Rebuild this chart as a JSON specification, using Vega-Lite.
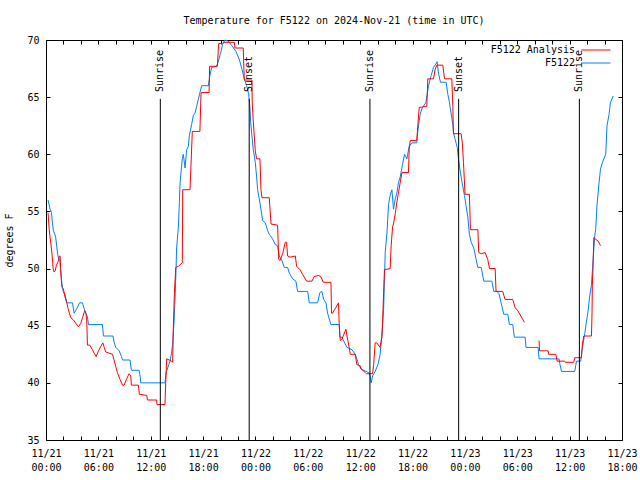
{
  "$schema": "https://vega.github.io/schema/vega-lite/v6.json",
  "width": 576,
  "height": 400,
  "autosize": {"type": "none"},
  "padding": {"left": 46, "top": 40, "right": 18, "bottom": 40},
  "background": "white",
  "title": {"text": "Temperature for F5122 on 2024-Nov-21 (time in UTC)", "font": "DejaVu Sans Mono", "fontSize": 10, "fontWeight": "normal", "color": "black", "offset": 9},
  "config": {
    "view": {"stroke": "black", "strokeWidth": 1},
    "axis": {"labelFont": "DejaVu Sans Mono", "labelFontSize": 10, "labelColor": "black", "tickColor": "black", "tickWidth": 1, "titleFont": "DejaVu Sans Mono", "titleFontSize": 10, "titleFontWeight": "normal", "titleColor": "black", "grid": false, "domain": false}
  },
  "datasets": {
    "obs": [
      {"time":"2024-11-21T00:14:00Z","temp":56.0,"series":"F5122","part":"a"},
      {"time":"2024-11-21T00:28:00Z","temp":55.2,"series":"F5122","part":"a"},
      {"time":"2024-11-21T00:38:00Z","temp":54.9,"series":"F5122","part":"a"},
      {"time":"2024-11-21T00:44:00Z","temp":54.0,"series":"F5122","part":"a"},
      {"time":"2024-11-21T00:51:00Z","temp":53.3,"series":"F5122","part":"a"},
      {"time":"2024-11-21T01:01:00Z","temp":53.0,"series":"F5122","part":"a"},
      {"time":"2024-11-21T01:07:00Z","temp":52.7,"series":"F5122","part":"a"},
      {"time":"2024-11-21T01:14:00Z","temp":51.9,"series":"F5122","part":"a"},
      {"time":"2024-11-21T01:21:00Z","temp":51.2,"series":"F5122","part":"a"},
      {"time":"2024-11-21T01:28:00Z","temp":50.8,"series":"F5122","part":"a"},
      {"time":"2024-11-21T01:35:00Z","temp":50.8,"series":"F5122","part":"a"},
      {"time":"2024-11-21T01:41:00Z","temp":49.9,"series":"F5122","part":"a"},
      {"time":"2024-11-21T01:49:00Z","temp":48.7,"series":"F5122","part":"a"},
      {"time":"2024-11-21T01:58:00Z","temp":48.0,"series":"F5122","part":"a"},
      {"time":"2024-11-21T02:11:00Z","temp":47.7,"series":"F5122","part":"a"},
      {"time":"2024-11-21T02:23:00Z","temp":47.0,"series":"F5122","part":"a"},
      {"time":"2024-11-21T03:02:00Z","temp":47.0,"series":"F5122","part":"a"},
      {"time":"2024-11-21T03:13:00Z","temp":46.1,"series":"F5122","part":"a"},
      {"time":"2024-11-21T03:32:00Z","temp":46.5,"series":"F5122","part":"a"},
      {"time":"2024-11-21T03:50:00Z","temp":47.0,"series":"F5122","part":"a"},
      {"time":"2024-11-21T04:11:00Z","temp":47.0,"series":"F5122","part":"a"},
      {"time":"2024-11-21T04:22:00Z","temp":46.5,"series":"F5122","part":"a"},
      {"time":"2024-11-21T04:34:00Z","temp":46.1,"series":"F5122","part":"a"},
      {"time":"2024-11-21T04:45:00Z","temp":45.8,"series":"F5122","part":"a"},
      {"time":"2024-11-21T04:52:00Z","temp":45.1,"series":"F5122","part":"a"},
      {"time":"2024-11-21T06:28:00Z","temp":45.1,"series":"F5122","part":"a"},
      {"time":"2024-11-21T06:35:00Z","temp":44.1,"series":"F5122","part":"a"},
      {"time":"2024-11-21T07:41:00Z","temp":44.1,"series":"F5122","part":"a"},
      {"time":"2024-11-21T07:49:00Z","temp":43.5,"series":"F5122","part":"a"},
      {"time":"2024-11-21T08:00:00Z","temp":43.1,"series":"F5122","part":"a"},
      {"time":"2024-11-21T08:23:00Z","temp":42.8,"series":"F5122","part":"a"},
      {"time":"2024-11-21T08:39:00Z","temp":42.3,"series":"F5122","part":"a"},
      {"time":"2024-11-21T08:46:00Z","temp":42.0,"series":"F5122","part":"a"},
      {"time":"2024-11-21T09:38:00Z","temp":42.0,"series":"F5122","part":"a"},
      {"time":"2024-11-21T09:47:00Z","temp":41.1,"series":"F5122","part":"a"},
      {"time":"2024-11-21T10:40:00Z","temp":41.1,"series":"F5122","part":"a"},
      {"time":"2024-11-21T10:47:00Z","temp":40.6,"series":"F5122","part":"a"},
      {"time":"2024-11-21T10:52:00Z","temp":40.0,"series":"F5122","part":"a"},
      {"time":"2024-11-21T13:38:00Z","temp":40.0,"series":"F5122","part":"a"},
      {"time":"2024-11-21T13:45:00Z","temp":40.9,"series":"F5122","part":"a"},
      {"time":"2024-11-21T13:54:00Z","temp":41.2,"series":"F5122","part":"a"},
      {"time":"2024-11-21T14:04:00Z","temp":41.6,"series":"F5122","part":"a"},
      {"time":"2024-11-21T14:13:00Z","temp":41.9,"series":"F5122","part":"a"},
      {"time":"2024-11-21T14:24:00Z","temp":42.7,"series":"F5122","part":"a"},
      {"time":"2024-11-21T14:31:00Z","temp":43.5,"series":"F5122","part":"a"},
      {"time":"2024-11-21T14:40:00Z","temp":45.3,"series":"F5122","part":"a"},
      {"time":"2024-11-21T14:47:00Z","temp":47.3,"series":"F5122","part":"a"},
      {"time":"2024-11-21T14:54:00Z","temp":49.9,"series":"F5122","part":"a"},
      {"time":"2024-11-21T14:58:00Z","temp":51.8,"series":"F5122","part":"a"},
      {"time":"2024-11-21T15:10:00Z","temp":53.6,"series":"F5122","part":"a"},
      {"time":"2024-11-21T15:17:00Z","temp":55.8,"series":"F5122","part":"a"},
      {"time":"2024-11-21T15:22:00Z","temp":57.5,"series":"F5122","part":"a"},
      {"time":"2024-11-21T15:28:00Z","temp":58.4,"series":"F5122","part":"a"},
      {"time":"2024-11-21T15:37:00Z","temp":59.6,"series":"F5122","part":"a"},
      {"time":"2024-11-21T15:44:00Z","temp":60.0,"series":"F5122","part":"a"},
      {"time":"2024-11-21T15:56:00Z","temp":58.8,"series":"F5122","part":"a"},
      {"time":"2024-11-21T16:07:00Z","temp":60.4,"series":"F5122","part":"a"},
      {"time":"2024-11-21T16:19:00Z","temp":60.7,"series":"F5122","part":"a"},
      {"time":"2024-11-21T16:25:00Z","temp":61.6,"series":"F5122","part":"a"},
      {"time":"2024-11-21T16:41:00Z","temp":62.6,"series":"F5122","part":"a"},
      {"time":"2024-11-21T16:53:00Z","temp":63.4,"series":"F5122","part":"a"},
      {"time":"2024-11-21T17:04:00Z","temp":63.6,"series":"F5122","part":"a"},
      {"time":"2024-11-21T17:16:00Z","temp":64.2,"series":"F5122","part":"a"},
      {"time":"2024-11-21T17:27:00Z","temp":64.8,"series":"F5122","part":"a"},
      {"time":"2024-11-21T17:38:00Z","temp":65.4,"series":"F5122","part":"a"},
      {"time":"2024-11-21T17:50:00Z","temp":66.0,"series":"F5122","part":"a"},
      {"time":"2024-11-21T18:36:00Z","temp":66.0,"series":"F5122","part":"a"},
      {"time":"2024-11-21T18:47:00Z","temp":66.9,"series":"F5122","part":"a"},
      {"time":"2024-11-21T18:59:00Z","temp":67.6,"series":"F5122","part":"a"},
      {"time":"2024-11-21T19:33:00Z","temp":67.7,"series":"F5122","part":"a"},
      {"time":"2024-11-21T19:44:00Z","temp":68.1,"series":"F5122","part":"a"},
      {"time":"2024-11-21T20:01:00Z","temp":68.9,"series":"F5122","part":"a"},
      {"time":"2024-11-21T20:14:00Z","temp":69.6,"series":"F5122","part":"a"},
      {"time":"2024-11-21T20:30:00Z","temp":70.0,"series":"F5122","part":"a"},
      {"time":"2024-11-21T20:53:00Z","temp":69.9,"series":"F5122","part":"a"},
      {"time":"2024-11-21T21:18:00Z","temp":69.5,"series":"F5122","part":"a"},
      {"time":"2024-11-21T21:46:00Z","temp":69.0,"series":"F5122","part":"a"},
      {"time":"2024-11-21T22:09:00Z","temp":68.3,"series":"F5122","part":"a"},
      {"time":"2024-11-21T22:28:00Z","temp":67.4,"series":"F5122","part":"a"},
      {"time":"2024-11-21T22:43:00Z","temp":66.6,"series":"F5122","part":"a"},
      {"time":"2024-11-21T22:59:00Z","temp":66.0,"series":"F5122","part":"a"},
      {"time":"2024-11-21T23:13:00Z","temp":65.3,"series":"F5122","part":"a"},
      {"time":"2024-11-21T23:22:00Z","temp":64.1,"series":"F5122","part":"a"},
      {"time":"2024-11-21T23:27:00Z","temp":62.8,"series":"F5122","part":"a"},
      {"time":"2024-11-21T23:36:00Z","temp":61.6,"series":"F5122","part":"a"},
      {"time":"2024-11-21T23:45:00Z","temp":60.4,"series":"F5122","part":"a"},
      {"time":"2024-11-21T23:59:00Z","temp":59.3,"series":"F5122","part":"a"},
      {"time":"2024-11-22T00:08:00Z","temp":58.0,"series":"F5122","part":"a"},
      {"time":"2024-11-22T00:15:00Z","temp":56.9,"series":"F5122","part":"a"},
      {"time":"2024-11-22T00:26:00Z","temp":56.1,"series":"F5122","part":"a"},
      {"time":"2024-11-22T00:38:00Z","temp":55.2,"series":"F5122","part":"a"},
      {"time":"2024-11-22T00:49:00Z","temp":54.2,"series":"F5122","part":"a"},
      {"time":"2024-11-22T01:08:00Z","temp":54.0,"series":"F5122","part":"a"},
      {"time":"2024-11-22T01:24:00Z","temp":53.3,"series":"F5122","part":"a"},
      {"time":"2024-11-22T01:35:00Z","temp":53.0,"series":"F5122","part":"a"},
      {"time":"2024-11-22T01:58:00Z","temp":52.6,"series":"F5122","part":"a"},
      {"time":"2024-11-22T02:16:00Z","temp":52.1,"series":"F5122","part":"a"},
      {"time":"2024-11-22T02:32:00Z","temp":52.0,"series":"F5122","part":"a"},
      {"time":"2024-11-22T02:44:00Z","temp":51.1,"series":"F5122","part":"a"},
      {"time":"2024-11-22T03:02:00Z","temp":50.7,"series":"F5122","part":"a"},
      {"time":"2024-11-22T03:18:00Z","temp":50.1,"series":"F5122","part":"a"},
      {"time":"2024-11-22T03:41:00Z","temp":50.1,"series":"F5122","part":"a"},
      {"time":"2024-11-22T03:53:00Z","temp":49.6,"series":"F5122","part":"a"},
      {"time":"2024-11-22T04:16:00Z","temp":49.1,"series":"F5122","part":"a"},
      {"time":"2024-11-22T04:38:00Z","temp":48.9,"series":"F5122","part":"a"},
      {"time":"2024-11-22T04:50:00Z","temp":48.0,"series":"F5122","part":"a"},
      {"time":"2024-11-22T05:59:00Z","temp":48.0,"series":"F5122","part":"a"},
      {"time":"2024-11-22T06:10:00Z","temp":47.0,"series":"F5122","part":"a"},
      {"time":"2024-11-22T07:07:00Z","temp":47.0,"series":"F5122","part":"a"},
      {"time":"2024-11-22T07:23:00Z","temp":47.9,"series":"F5122","part":"a"},
      {"time":"2024-11-22T07:37:00Z","temp":48.0,"series":"F5122","part":"a"},
      {"time":"2024-11-22T07:49:00Z","temp":47.3,"series":"F5122","part":"a"},
      {"time":"2024-11-22T08:05:00Z","temp":47.0,"series":"F5122","part":"a"},
      {"time":"2024-11-22T08:16:00Z","temp":46.1,"series":"F5122","part":"a"},
      {"time":"2024-11-22T08:39:00Z","temp":45.1,"series":"F5122","part":"a"},
      {"time":"2024-11-22T09:36:00Z","temp":45.1,"series":"F5122","part":"a"},
      {"time":"2024-11-22T09:41:00Z","temp":44.0,"series":"F5122","part":"a"},
      {"time":"2024-11-22T09:54:00Z","temp":44.0,"series":"F5122","part":"a"},
      {"time":"2024-11-22T10:17:00Z","temp":43.4,"series":"F5122","part":"a"},
      {"time":"2024-11-22T10:29:00Z","temp":43.1,"series":"F5122","part":"a"},
      {"time":"2024-11-22T11:03:00Z","temp":42.9,"series":"F5122","part":"a"},
      {"time":"2024-11-22T11:26:00Z","temp":42.5,"series":"F5122","part":"a"},
      {"time":"2024-11-22T11:37:00Z","temp":42.1,"series":"F5122","part":"a"},
      {"time":"2024-11-22T11:49:00Z","temp":41.6,"series":"F5122","part":"a"},
      {"time":"2024-11-22T12:07:00Z","temp":41.2,"series":"F5122","part":"a"},
      {"time":"2024-11-22T12:58:00Z","temp":40.9,"series":"F5122","part":"a"},
      {"time":"2024-11-22T13:09:00Z","temp":40.6,"series":"F5122","part":"a"},
      {"time":"2024-11-22T13:16:00Z","temp":40.0,"series":"F5122","part":"a"},
      {"time":"2024-11-22T13:25:00Z","temp":40.6,"series":"F5122","part":"a"},
      {"time":"2024-11-22T13:43:00Z","temp":41.0,"series":"F5122","part":"a"},
      {"time":"2024-11-22T14:02:00Z","temp":41.6,"series":"F5122","part":"a"},
      {"time":"2024-11-22T14:17:00Z","temp":42.5,"series":"F5122","part":"a"},
      {"time":"2024-11-22T14:29:00Z","temp":44.1,"series":"F5122","part":"a"},
      {"time":"2024-11-22T14:41:00Z","temp":46.4,"series":"F5122","part":"a"},
      {"time":"2024-11-22T14:52:00Z","temp":51.4,"series":"F5122","part":"a"},
      {"time":"2024-11-22T15:04:00Z","temp":53.1,"series":"F5122","part":"a"},
      {"time":"2024-11-22T15:15:00Z","temp":55.6,"series":"F5122","part":"a"},
      {"time":"2024-11-22T15:26:00Z","temp":56.4,"series":"F5122","part":"a"},
      {"time":"2024-11-22T15:38:00Z","temp":56.9,"series":"F5122","part":"a"},
      {"time":"2024-11-22T15:49:00Z","temp":55.2,"series":"F5122","part":"a"},
      {"time":"2024-11-22T16:01:00Z","temp":56.1,"series":"F5122","part":"a"},
      {"time":"2024-11-22T16:12:00Z","temp":56.6,"series":"F5122","part":"a"},
      {"time":"2024-11-22T16:23:00Z","temp":57.5,"series":"F5122","part":"a"},
      {"time":"2024-11-22T16:35:00Z","temp":58.0,"series":"F5122","part":"a"},
      {"time":"2024-11-22T16:51:00Z","temp":59.1,"series":"F5122","part":"a"},
      {"time":"2024-11-22T17:05:00Z","temp":60.0,"series":"F5122","part":"a"},
      {"time":"2024-11-22T17:21:00Z","temp":59.6,"series":"F5122","part":"a"},
      {"time":"2024-11-22T17:37:00Z","temp":60.7,"series":"F5122","part":"a"},
      {"time":"2024-11-22T17:55:00Z","temp":61.0,"series":"F5122","part":"a"},
      {"time":"2024-11-22T18:29:00Z","temp":61.0,"series":"F5122","part":"a"},
      {"time":"2024-11-22T18:36:00Z","temp":62.0,"series":"F5122","part":"a"},
      {"time":"2024-11-22T18:52:00Z","temp":63.5,"series":"F5122","part":"a"},
      {"time":"2024-11-22T19:08:00Z","temp":64.1,"series":"F5122","part":"a"},
      {"time":"2024-11-22T19:31:00Z","temp":64.5,"series":"F5122","part":"a"},
      {"time":"2024-11-22T19:50:00Z","temp":66.0,"series":"F5122","part":"a"},
      {"time":"2024-11-22T20:08:00Z","temp":66.9,"series":"F5122","part":"a"},
      {"time":"2024-11-22T20:24:00Z","temp":67.6,"series":"F5122","part":"a"},
      {"time":"2024-11-22T20:40:00Z","temp":67.9,"series":"F5122","part":"a"},
      {"time":"2024-11-22T20:49:00Z","temp":68.1,"series":"F5122","part":"a"},
      {"time":"2024-11-22T20:58:00Z","temp":67.1,"series":"F5122","part":"a"},
      {"time":"2024-11-22T21:12:00Z","temp":66.3,"series":"F5122","part":"a"},
      {"time":"2024-11-22T21:51:00Z","temp":66.3,"series":"F5122","part":"a"},
      {"time":"2024-11-22T22:02:00Z","temp":65.3,"series":"F5122","part":"a"},
      {"time":"2024-11-22T22:14:00Z","temp":64.5,"series":"F5122","part":"a"},
      {"time":"2024-11-22T22:25:00Z","temp":63.6,"series":"F5122","part":"a"},
      {"time":"2024-11-22T22:37:00Z","temp":62.6,"series":"F5122","part":"a"},
      {"time":"2024-11-22T22:43:00Z","temp":61.8,"series":"F5122","part":"a"},
      {"time":"2024-11-22T22:53:00Z","temp":61.3,"series":"F5122","part":"a"},
      {"time":"2024-11-22T23:07:00Z","temp":60.6,"series":"F5122","part":"a"},
      {"time":"2024-11-22T23:16:00Z","temp":59.6,"series":"F5122","part":"a"},
      {"time":"2024-11-22T23:29:00Z","temp":58.4,"series":"F5122","part":"a"},
      {"time":"2024-11-22T23:41:00Z","temp":57.5,"series":"F5122","part":"a"},
      {"time":"2024-11-22T23:57:00Z","temp":56.4,"series":"F5122","part":"a"},
      {"time":"2024-11-23T00:08:00Z","temp":55.5,"series":"F5122","part":"a"},
      {"time":"2024-11-23T00:20:00Z","temp":54.5,"series":"F5122","part":"a"},
      {"time":"2024-11-23T00:31:00Z","temp":53.0,"series":"F5122","part":"a"},
      {"time":"2024-11-23T00:43:00Z","temp":52.3,"series":"F5122","part":"a"},
      {"time":"2024-11-23T01:01:00Z","temp":51.8,"series":"F5122","part":"a"},
      {"time":"2024-11-23T01:17:00Z","temp":50.8,"series":"F5122","part":"a"},
      {"time":"2024-11-23T01:29:00Z","temp":50.1,"series":"F5122","part":"a"},
      {"time":"2024-11-23T01:52:00Z","temp":50.1,"series":"F5122","part":"a"},
      {"time":"2024-11-23T02:10:00Z","temp":48.9,"series":"F5122","part":"a"},
      {"time":"2024-11-23T03:05:00Z","temp":48.9,"series":"F5122","part":"a"},
      {"time":"2024-11-23T03:19:00Z","temp":48.0,"series":"F5122","part":"a"},
      {"time":"2024-11-23T03:41:00Z","temp":48.0,"series":"F5122","part":"a"},
      {"time":"2024-11-23T03:54:00Z","temp":47.8,"series":"F5122","part":"a"},
      {"time":"2024-11-23T04:09:00Z","temp":47.0,"series":"F5122","part":"a"},
      {"time":"2024-11-23T04:27:00Z","temp":46.0,"series":"F5122","part":"a"},
      {"time":"2024-11-23T04:55:00Z","temp":46.0,"series":"F5122","part":"a"},
      {"time":"2024-11-23T05:06:00Z","temp":45.1,"series":"F5122","part":"a"},
      {"time":"2024-11-23T05:29:00Z","temp":45.1,"series":"F5122","part":"a"},
      {"time":"2024-11-23T05:40:00Z","temp":44.0,"series":"F5122","part":"a"},
      {"time":"2024-11-23T06:54:00Z","temp":44.0,"series":"F5122","part":"a"},
      {"time":"2024-11-23T07:00:00Z","temp":43.1,"series":"F5122","part":"a"},
      {"time":"2024-11-23T08:23:00Z","temp":43.1,"series":"F5122","part":"a"},
      {"time":"2024-11-23T08:30:00Z","temp":42.1,"series":"F5122","part":"a"},
      {"time":"2024-11-23T10:47:00Z","temp":42.1,"series":"F5122","part":"a"},
      {"time":"2024-11-23T10:54:00Z","temp":41.6,"series":"F5122","part":"a"},
      {"time":"2024-11-23T11:04:00Z","temp":41.0,"series":"F5122","part":"a"},
      {"time":"2024-11-23T12:35:00Z","temp":41.0,"series":"F5122","part":"a"},
      {"time":"2024-11-23T12:47:00Z","temp":41.9,"series":"F5122","part":"a"},
      {"time":"2024-11-23T13:16:00Z","temp":41.9,"series":"F5122","part":"a"},
      {"time":"2024-11-23T13:28:00Z","temp":43.1,"series":"F5122","part":"a"},
      {"time":"2024-11-23T13:44:00Z","temp":44.3,"series":"F5122","part":"a"},
      {"time":"2024-11-23T13:55:00Z","temp":45.3,"series":"F5122","part":"a"},
      {"time":"2024-11-23T14:07:00Z","temp":46.3,"series":"F5122","part":"a"},
      {"time":"2024-11-23T14:18:00Z","temp":47.6,"series":"F5122","part":"a"},
      {"time":"2024-11-23T14:30:00Z","temp":48.6,"series":"F5122","part":"a"},
      {"time":"2024-11-23T14:37:00Z","temp":49.9,"series":"F5122","part":"a"},
      {"time":"2024-11-23T14:46:00Z","temp":51.7,"series":"F5122","part":"a"},
      {"time":"2024-11-23T14:53:00Z","temp":52.9,"series":"F5122","part":"a"},
      {"time":"2024-11-23T14:59:00Z","temp":53.4,"series":"F5122","part":"a"},
      {"time":"2024-11-23T15:08:00Z","temp":55.5,"series":"F5122","part":"a"},
      {"time":"2024-11-23T15:22:00Z","temp":57.5,"series":"F5122","part":"a"},
      {"time":"2024-11-23T15:32:00Z","temp":58.7,"series":"F5122","part":"a"},
      {"time":"2024-11-23T15:46:00Z","temp":59.3,"series":"F5122","part":"a"},
      {"time":"2024-11-23T16:08:00Z","temp":60.0,"series":"F5122","part":"a"},
      {"time":"2024-11-23T16:17:00Z","temp":62.5,"series":"F5122","part":"a"},
      {"time":"2024-11-23T16:31:00Z","temp":63.5,"series":"F5122","part":"a"},
      {"time":"2024-11-23T16:40:00Z","temp":64.5,"series":"F5122","part":"a"},
      {"time":"2024-11-23T16:59:00Z","temp":65.1,"series":"F5122","part":"a"},
      {"time":"2024-11-21T00:14:00Z","temp":54.9,"series":"F5122 Analysis","part":"a"},
      {"time":"2024-11-21T00:22:00Z","temp":53.4,"series":"F5122 Analysis","part":"a"},
      {"time":"2024-11-21T00:33:00Z","temp":52.2,"series":"F5122 Analysis","part":"a"},
      {"time":"2024-11-21T00:42:00Z","temp":51.2,"series":"F5122 Analysis","part":"a"},
      {"time":"2024-11-21T00:49:00Z","temp":50.0,"series":"F5122 Analysis","part":"a"},
      {"time":"2024-11-21T00:56:00Z","temp":49.7,"series":"F5122 Analysis","part":"a"},
      {"time":"2024-11-21T01:03:00Z","temp":49.8,"series":"F5122 Analysis","part":"a"},
      {"time":"2024-11-21T01:12:00Z","temp":50.3,"series":"F5122 Analysis","part":"a"},
      {"time":"2024-11-21T01:23:00Z","temp":50.6,"series":"F5122 Analysis","part":"a"},
      {"time":"2024-11-21T01:32:00Z","temp":51.1,"series":"F5122 Analysis","part":"a"},
      {"time":"2024-11-21T01:37:00Z","temp":51.1,"series":"F5122 Analysis","part":"a"},
      {"time":"2024-11-21T01:40:00Z","temp":50.0,"series":"F5122 Analysis","part":"a"},
      {"time":"2024-11-21T01:44:00Z","temp":49.3,"series":"F5122 Analysis","part":"a"},
      {"time":"2024-11-21T01:49:00Z","temp":48.4,"series":"F5122 Analysis","part":"a"},
      {"time":"2024-11-21T02:00:00Z","temp":48.2,"series":"F5122 Analysis","part":"a"},
      {"time":"2024-11-21T02:09:00Z","temp":47.6,"series":"F5122 Analysis","part":"a"},
      {"time":"2024-11-21T02:23:00Z","temp":47.0,"series":"F5122 Analysis","part":"a"},
      {"time":"2024-11-21T02:32:00Z","temp":46.5,"series":"F5122 Analysis","part":"a"},
      {"time":"2024-11-21T02:41:00Z","temp":46.1,"series":"F5122 Analysis","part":"a"},
      {"time":"2024-11-21T02:50:00Z","temp":45.7,"series":"F5122 Analysis","part":"a"},
      {"time":"2024-11-21T03:09:00Z","temp":45.5,"series":"F5122 Analysis","part":"a"},
      {"time":"2024-11-21T03:25:00Z","temp":45.2,"series":"F5122 Analysis","part":"a"},
      {"time":"2024-11-21T03:43:00Z","temp":44.9,"series":"F5122 Analysis","part":"a"},
      {"time":"2024-11-21T03:59:00Z","temp":45.2,"series":"F5122 Analysis","part":"a"},
      {"time":"2024-11-21T04:11:00Z","temp":45.7,"series":"F5122 Analysis","part":"a"},
      {"time":"2024-11-21T04:26:00Z","temp":46.3,"series":"F5122 Analysis","part":"a"},
      {"time":"2024-11-21T04:34:00Z","temp":46.1,"series":"F5122 Analysis","part":"a"},
      {"time":"2024-11-21T04:40:00Z","temp":45.5,"series":"F5122 Analysis","part":"a"},
      {"time":"2024-11-21T04:45:00Z","temp":43.3,"series":"F5122 Analysis","part":"a"},
      {"time":"2024-11-21T05:01:00Z","temp":43.3,"series":"F5122 Analysis","part":"a"},
      {"time":"2024-11-21T05:19:00Z","temp":42.9,"series":"F5122 Analysis","part":"a"},
      {"time":"2024-11-21T05:31:00Z","temp":42.6,"series":"F5122 Analysis","part":"a"},
      {"time":"2024-11-21T05:44:00Z","temp":42.3,"series":"F5122 Analysis","part":"a"},
      {"time":"2024-11-21T06:01:00Z","temp":42.8,"series":"F5122 Analysis","part":"a"},
      {"time":"2024-11-21T06:17:00Z","temp":43.2,"series":"F5122 Analysis","part":"a"},
      {"time":"2024-11-21T06:31:00Z","temp":43.5,"series":"F5122 Analysis","part":"a"},
      {"time":"2024-11-21T06:40:00Z","temp":43.1,"series":"F5122 Analysis","part":"a"},
      {"time":"2024-11-21T06:51:00Z","temp":42.7,"series":"F5122 Analysis","part":"a"},
      {"time":"2024-11-21T07:14:00Z","temp":42.6,"series":"F5122 Analysis","part":"a"},
      {"time":"2024-11-21T07:37:00Z","temp":42.5,"series":"F5122 Analysis","part":"a"},
      {"time":"2024-11-21T07:48:00Z","temp":42.0,"series":"F5122 Analysis","part":"a"},
      {"time":"2024-11-21T08:00:00Z","temp":41.4,"series":"F5122 Analysis","part":"a"},
      {"time":"2024-11-21T08:11:00Z","temp":40.9,"series":"F5122 Analysis","part":"a"},
      {"time":"2024-11-21T08:29:00Z","temp":40.3,"series":"F5122 Analysis","part":"a"},
      {"time":"2024-11-21T08:46:00Z","temp":39.8,"series":"F5122 Analysis","part":"a"},
      {"time":"2024-11-21T08:57:00Z","temp":39.8,"series":"F5122 Analysis","part":"a"},
      {"time":"2024-11-21T09:13:00Z","temp":40.3,"series":"F5122 Analysis","part":"a"},
      {"time":"2024-11-21T09:31:00Z","temp":40.8,"series":"F5122 Analysis","part":"a"},
      {"time":"2024-11-21T09:43:00Z","temp":40.6,"series":"F5122 Analysis","part":"a"},
      {"time":"2024-11-21T09:47:00Z","temp":39.8,"series":"F5122 Analysis","part":"a"},
      {"time":"2024-11-21T10:35:00Z","temp":39.8,"series":"F5122 Analysis","part":"a"},
      {"time":"2024-11-21T10:42:00Z","temp":39.0,"series":"F5122 Analysis","part":"a"},
      {"time":"2024-11-21T11:33:00Z","temp":38.9,"series":"F5122 Analysis","part":"a"},
      {"time":"2024-11-21T11:37:00Z","temp":38.5,"series":"F5122 Analysis","part":"a"},
      {"time":"2024-11-21T12:41:00Z","temp":38.5,"series":"F5122 Analysis","part":"a"},
      {"time":"2024-11-21T12:43:00Z","temp":38.1,"series":"F5122 Analysis","part":"a"},
      {"time":"2024-11-21T13:38:00Z","temp":38.1,"series":"F5122 Analysis","part":"a"},
      {"time":"2024-11-21T13:43:00Z","temp":40.0,"series":"F5122 Analysis","part":"a"},
      {"time":"2024-11-21T13:50:00Z","temp":42.1,"series":"F5122 Analysis","part":"a"},
      {"time":"2024-11-21T14:24:00Z","temp":41.9,"series":"F5122 Analysis","part":"a"},
      {"time":"2024-11-21T14:31:00Z","temp":41.8,"series":"F5122 Analysis","part":"a"},
      {"time":"2024-11-21T14:35:00Z","temp":44.7,"series":"F5122 Analysis","part":"a"},
      {"time":"2024-11-21T14:43:00Z","temp":47.9,"series":"F5122 Analysis","part":"a"},
      {"time":"2024-11-21T14:52:00Z","temp":50.1,"series":"F5122 Analysis","part":"a"},
      {"time":"2024-11-21T15:10:00Z","temp":50.2,"series":"F5122 Analysis","part":"a"},
      {"time":"2024-11-21T15:37:00Z","temp":50.5,"series":"F5122 Analysis","part":"a"},
      {"time":"2024-11-21T15:40:00Z","temp":56.9,"series":"F5122 Analysis","part":"a"},
      {"time":"2024-11-21T16:30:00Z","temp":56.9,"series":"F5122 Analysis","part":"a"},
      {"time":"2024-11-21T16:46:00Z","temp":62.0,"series":"F5122 Analysis","part":"a"},
      {"time":"2024-11-21T17:38:00Z","temp":62.0,"series":"F5122 Analysis","part":"a"},
      {"time":"2024-11-21T17:46:00Z","temp":65.4,"series":"F5122 Analysis","part":"a"},
      {"time":"2024-11-21T18:41:00Z","temp":65.4,"series":"F5122 Analysis","part":"a"},
      {"time":"2024-11-21T18:45:00Z","temp":67.7,"series":"F5122 Analysis","part":"a"},
      {"time":"2024-11-21T19:38:00Z","temp":67.7,"series":"F5122 Analysis","part":"a"},
      {"time":"2024-11-21T19:47:00Z","temp":69.7,"series":"F5122 Analysis","part":"a"},
      {"time":"2024-11-21T20:14:00Z","temp":69.7,"series":"F5122 Analysis","part":"a"},
      {"time":"2024-11-21T20:19:00Z","temp":69.8,"series":"F5122 Analysis","part":"a"},
      {"time":"2024-11-21T21:35:00Z","temp":69.8,"series":"F5122 Analysis","part":"a"},
      {"time":"2024-11-21T21:39:00Z","temp":69.3,"series":"F5122 Analysis","part":"a"},
      {"time":"2024-11-21T22:36:00Z","temp":69.3,"series":"F5122 Analysis","part":"a"},
      {"time":"2024-11-21T22:43:00Z","temp":66.5,"series":"F5122 Analysis","part":"a"},
      {"time":"2024-11-21T23:36:00Z","temp":66.5,"series":"F5122 Analysis","part":"a"},
      {"time":"2024-11-21T23:38:00Z","temp":64.5,"series":"F5122 Analysis","part":"a"},
      {"time":"2024-11-21T23:45:00Z","temp":62.9,"series":"F5122 Analysis","part":"a"},
      {"time":"2024-11-21T23:52:00Z","temp":61.6,"series":"F5122 Analysis","part":"a"},
      {"time":"2024-11-21T23:59:00Z","temp":60.3,"series":"F5122 Analysis","part":"a"},
      {"time":"2024-11-22T00:08:00Z","temp":59.6,"series":"F5122 Analysis","part":"a"},
      {"time":"2024-11-22T00:31:00Z","temp":59.6,"series":"F5122 Analysis","part":"a"},
      {"time":"2024-11-22T00:38:00Z","temp":56.9,"series":"F5122 Analysis","part":"a"},
      {"time":"2024-11-22T00:45:00Z","temp":56.2,"series":"F5122 Analysis","part":"a"},
      {"time":"2024-11-22T01:35:00Z","temp":56.2,"series":"F5122 Analysis","part":"a"},
      {"time":"2024-11-22T01:47:00Z","temp":53.9,"series":"F5122 Analysis","part":"a"},
      {"time":"2024-11-22T02:32:00Z","temp":53.8,"series":"F5122 Analysis","part":"a"},
      {"time":"2024-11-22T02:40:00Z","temp":50.8,"series":"F5122 Analysis","part":"a"},
      {"time":"2024-11-22T02:49:00Z","temp":50.7,"series":"F5122 Analysis","part":"a"},
      {"time":"2024-11-22T03:07:00Z","temp":51.3,"series":"F5122 Analysis","part":"a"},
      {"time":"2024-11-22T03:25:00Z","temp":52.3,"series":"F5122 Analysis","part":"a"},
      {"time":"2024-11-22T03:34:00Z","temp":52.3,"series":"F5122 Analysis","part":"a"},
      {"time":"2024-11-22T03:41:00Z","temp":51.1,"series":"F5122 Analysis","part":"a"},
      {"time":"2024-11-22T03:57:00Z","temp":51.0,"series":"F5122 Analysis","part":"a"},
      {"time":"2024-11-22T04:34:00Z","temp":51.1,"series":"F5122 Analysis","part":"a"},
      {"time":"2024-11-22T04:43:00Z","temp":50.2,"series":"F5122 Analysis","part":"a"},
      {"time":"2024-11-22T05:06:00Z","temp":49.9,"series":"F5122 Analysis","part":"a"},
      {"time":"2024-11-22T05:24:00Z","temp":49.5,"series":"F5122 Analysis","part":"a"},
      {"time":"2024-11-22T05:52:00Z","temp":48.9,"series":"F5122 Analysis","part":"a"},
      {"time":"2024-11-22T06:28:00Z","temp":48.9,"series":"F5122 Analysis","part":"a"},
      {"time":"2024-11-22T06:44:00Z","temp":49.3,"series":"F5122 Analysis","part":"a"},
      {"time":"2024-11-22T07:12:00Z","temp":49.4,"series":"F5122 Analysis","part":"a"},
      {"time":"2024-11-22T07:30:00Z","temp":49.3,"series":"F5122 Analysis","part":"a"},
      {"time":"2024-11-22T07:46:00Z","temp":48.8,"series":"F5122 Analysis","part":"a"},
      {"time":"2024-11-22T08:39:00Z","temp":48.8,"series":"F5122 Analysis","part":"a"},
      {"time":"2024-11-22T08:43:00Z","temp":46.1,"series":"F5122 Analysis","part":"a"},
      {"time":"2024-11-22T08:50:00Z","temp":46.1,"series":"F5122 Analysis","part":"a"},
      {"time":"2024-11-22T09:13:00Z","temp":46.6,"series":"F5122 Analysis","part":"a"},
      {"time":"2024-11-22T09:31:00Z","temp":47.0,"series":"F5122 Analysis","part":"a"},
      {"time":"2024-11-22T09:36:00Z","temp":45.0,"series":"F5122 Analysis","part":"a"},
      {"time":"2024-11-22T09:43:00Z","temp":43.7,"series":"F5122 Analysis","part":"a"},
      {"time":"2024-11-22T09:54:00Z","temp":43.8,"series":"F5122 Analysis","part":"a"},
      {"time":"2024-11-22T10:06:00Z","temp":44.2,"series":"F5122 Analysis","part":"a"},
      {"time":"2024-11-22T10:22:00Z","temp":44.7,"series":"F5122 Analysis","part":"a"},
      {"time":"2024-11-22T10:29:00Z","temp":44.1,"series":"F5122 Analysis","part":"a"},
      {"time":"2024-11-22T10:40:00Z","temp":43.4,"series":"F5122 Analysis","part":"a"},
      {"time":"2024-11-22T10:52:00Z","temp":42.5,"series":"F5122 Analysis","part":"a"},
      {"time":"2024-11-22T11:26:00Z","temp":42.5,"series":"F5122 Analysis","part":"a"},
      {"time":"2024-11-22T11:37:00Z","temp":41.6,"series":"F5122 Analysis","part":"a"},
      {"time":"2024-11-22T12:00:00Z","temp":41.5,"series":"F5122 Analysis","part":"a"},
      {"time":"2024-11-22T12:07:00Z","temp":41.2,"series":"F5122 Analysis","part":"a"},
      {"time":"2024-11-22T12:35:00Z","temp":40.9,"series":"F5122 Analysis","part":"a"},
      {"time":"2024-11-22T12:42:00Z","temp":40.8,"series":"F5122 Analysis","part":"a"},
      {"time":"2024-11-22T13:25:00Z","temp":40.8,"series":"F5122 Analysis","part":"a"},
      {"time":"2024-11-22T13:32:00Z","temp":41.5,"series":"F5122 Analysis","part":"a"},
      {"time":"2024-11-22T13:43:00Z","temp":43.5,"series":"F5122 Analysis","part":"a"},
      {"time":"2024-11-22T13:54:00Z","temp":43.5,"series":"F5122 Analysis","part":"a"},
      {"time":"2024-11-22T14:17:00Z","temp":43.1,"series":"F5122 Analysis","part":"a"},
      {"time":"2024-11-22T14:29:00Z","temp":44.0,"series":"F5122 Analysis","part":"a"},
      {"time":"2024-11-22T14:34:00Z","temp":45.3,"series":"F5122 Analysis","part":"a"},
      {"time":"2024-11-22T14:41:00Z","temp":47.9,"series":"F5122 Analysis","part":"a"},
      {"time":"2024-11-22T14:47:00Z","temp":49.9,"series":"F5122 Analysis","part":"a"},
      {"time":"2024-11-22T15:26:00Z","temp":50.0,"series":"F5122 Analysis","part":"a"},
      {"time":"2024-11-22T15:33:00Z","temp":52.0,"series":"F5122 Analysis","part":"a"},
      {"time":"2024-11-22T15:43:00Z","temp":53.7,"series":"F5122 Analysis","part":"a"},
      {"time":"2024-11-22T15:49:00Z","temp":53.9,"series":"F5122 Analysis","part":"a"},
      {"time":"2024-11-22T16:01:00Z","temp":54.8,"series":"F5122 Analysis","part":"a"},
      {"time":"2024-11-22T16:12:00Z","temp":55.8,"series":"F5122 Analysis","part":"a"},
      {"time":"2024-11-22T16:23:00Z","temp":56.6,"series":"F5122 Analysis","part":"a"},
      {"time":"2024-11-22T16:35:00Z","temp":57.5,"series":"F5122 Analysis","part":"a"},
      {"time":"2024-11-22T16:47:00Z","temp":58.4,"series":"F5122 Analysis","part":"a"},
      {"time":"2024-11-22T17:32:00Z","temp":58.4,"series":"F5122 Analysis","part":"a"},
      {"time":"2024-11-22T17:37:00Z","temp":60.4,"series":"F5122 Analysis","part":"a"},
      {"time":"2024-11-22T17:44:00Z","temp":61.2,"series":"F5122 Analysis","part":"a"},
      {"time":"2024-11-22T18:29:00Z","temp":61.2,"series":"F5122 Analysis","part":"a"},
      {"time":"2024-11-22T18:36:00Z","temp":62.5,"series":"F5122 Analysis","part":"a"},
      {"time":"2024-11-22T18:46:00Z","temp":64.1,"series":"F5122 Analysis","part":"a"},
      {"time":"2024-11-22T19:38:00Z","temp":64.2,"series":"F5122 Analysis","part":"a"},
      {"time":"2024-11-22T19:45:00Z","temp":66.6,"series":"F5122 Analysis","part":"a"},
      {"time":"2024-11-22T20:24:00Z","temp":66.6,"series":"F5122 Analysis","part":"a"},
      {"time":"2024-11-22T20:35:00Z","temp":67.4,"series":"F5122 Analysis","part":"a"},
      {"time":"2024-11-22T20:47:00Z","temp":67.8,"series":"F5122 Analysis","part":"a"},
      {"time":"2024-11-22T21:28:00Z","temp":67.8,"series":"F5122 Analysis","part":"a"},
      {"time":"2024-11-22T21:40:00Z","temp":66.6,"series":"F5122 Analysis","part":"a"},
      {"time":"2024-11-22T22:30:00Z","temp":66.6,"series":"F5122 Analysis","part":"a"},
      {"time":"2024-11-22T22:37:00Z","temp":64.2,"series":"F5122 Analysis","part":"a"},
      {"time":"2024-11-22T22:41:00Z","temp":61.8,"series":"F5122 Analysis","part":"a"},
      {"time":"2024-11-22T23:34:00Z","temp":61.8,"series":"F5122 Analysis","part":"a"},
      {"time":"2024-11-22T23:42:00Z","temp":61.0,"series":"F5122 Analysis","part":"a"},
      {"time":"2024-11-22T23:50:00Z","temp":59.3,"series":"F5122 Analysis","part":"a"},
      {"time":"2024-11-23T00:01:00Z","temp":56.5,"series":"F5122 Analysis","part":"a"},
      {"time":"2024-11-23T00:31:00Z","temp":56.5,"series":"F5122 Analysis","part":"a"},
      {"time":"2024-11-23T00:38:00Z","temp":53.4,"series":"F5122 Analysis","part":"a"},
      {"time":"2024-11-23T01:29:00Z","temp":53.4,"series":"F5122 Analysis","part":"a"},
      {"time":"2024-11-23T01:35:00Z","temp":51.4,"series":"F5122 Analysis","part":"a"},
      {"time":"2024-11-23T01:52:00Z","temp":51.3,"series":"F5122 Analysis","part":"a"},
      {"time":"2024-11-23T02:19:00Z","temp":51.4,"series":"F5122 Analysis","part":"a"},
      {"time":"2024-11-23T02:37:00Z","temp":50.8,"series":"F5122 Analysis","part":"a"},
      {"time":"2024-11-23T02:49:00Z","temp":50.0,"series":"F5122 Analysis","part":"a"},
      {"time":"2024-11-23T03:28:00Z","temp":50.0,"series":"F5122 Analysis","part":"a"},
      {"time":"2024-11-23T03:34:00Z","temp":48.0,"series":"F5122 Analysis","part":"a"},
      {"time":"2024-11-23T04:20:00Z","temp":48.0,"series":"F5122 Analysis","part":"a"},
      {"time":"2024-11-23T04:36:00Z","temp":47.3,"series":"F5122 Analysis","part":"a"},
      {"time":"2024-11-23T05:29:00Z","temp":47.3,"series":"F5122 Analysis","part":"a"},
      {"time":"2024-11-23T05:45:00Z","temp":46.6,"series":"F5122 Analysis","part":"a"},
      {"time":"2024-11-23T06:04:00Z","temp":46.3,"series":"F5122 Analysis","part":"a"},
      {"time":"2024-11-23T06:49:00Z","temp":45.3,"series":"F5122 Analysis","part":"a"},
      {"time":"2024-11-23T08:30:00Z","temp":43.7,"series":"F5122 Analysis","part":"b"},
      {"time":"2024-11-23T08:33:00Z","temp":42.8,"series":"F5122 Analysis","part":"b"},
      {"time":"2024-11-23T09:32:00Z","temp":42.8,"series":"F5122 Analysis","part":"b"},
      {"time":"2024-11-23T09:36:00Z","temp":42.5,"series":"F5122 Analysis","part":"b"},
      {"time":"2024-11-23T10:25:00Z","temp":42.5,"series":"F5122 Analysis","part":"b"},
      {"time":"2024-11-23T10:34:00Z","temp":41.9,"series":"F5122 Analysis","part":"b"},
      {"time":"2024-11-23T11:26:00Z","temp":41.9,"series":"F5122 Analysis","part":"b"},
      {"time":"2024-11-23T11:30:00Z","temp":41.8,"series":"F5122 Analysis","part":"b"},
      {"time":"2024-11-23T12:28:00Z","temp":41.8,"series":"F5122 Analysis","part":"b"},
      {"time":"2024-11-23T12:35:00Z","temp":42.2,"series":"F5122 Analysis","part":"b"},
      {"time":"2024-11-23T13:21:00Z","temp":42.2,"series":"F5122 Analysis","part":"b"},
      {"time":"2024-11-23T13:28:00Z","temp":43.4,"series":"F5122 Analysis","part":"b"},
      {"time":"2024-11-23T13:37:00Z","temp":44.1,"series":"F5122 Analysis","part":"b"},
      {"time":"2024-11-23T14:30:00Z","temp":44.1,"series":"F5122 Analysis","part":"b"},
      {"time":"2024-11-23T14:34:00Z","temp":46.1,"series":"F5122 Analysis","part":"b"},
      {"time":"2024-11-23T14:36:00Z","temp":48.5,"series":"F5122 Analysis","part":"b"},
      {"time":"2024-11-23T14:41:00Z","temp":50.2,"series":"F5122 Analysis","part":"b"},
      {"time":"2024-11-23T14:46:00Z","temp":52.7,"series":"F5122 Analysis","part":"b"},
      {"time":"2024-11-23T15:16:00Z","temp":52.4,"series":"F5122 Analysis","part":"b"},
      {"time":"2024-11-23T15:32:00Z","temp":52.0,"series":"F5122 Analysis","part":"b"}
    ],
    "events": [
      {"time":"2024-11-21T13:06:00Z","event":"Sunrise"},
      {"time":"2024-11-21T23:17:00Z","event":"Sunset"},
      {"time":"2024-11-22T13:07:00Z","event":"Sunrise"},
      {"time":"2024-11-22T23:17:00Z","event":"Sunset"},
      {"time":"2024-11-23T13:07:00Z","event":"Sunrise"}
    ]
  },
  "layer": [
    {
      "data": {"name": "obs"},
      "mark": {"type": "line", "strokeWidth": 1, "interpolate": "linear"},
      "encoding": {
        "x": {
          "field": "time", "type": "temporal",
          "scale": {"type": "utc", "domain": [1732147200000, 1732384800000]},
          "axis": {"orient": "bottom", "title": null, "values": [1732147200000,1732154400000,1732161600000,1732168800000,1732176000000,1732183200000,1732190400000,1732197600000,1732204800000,1732212000000,1732219200000,1732226400000,1732233600000,1732240800000,1732248000000,1732255200000,1732262400000,1732269600000,1732276800000,1732284000000,1732291200000,1732298400000,1732305600000,1732312800000,1732320000000,1732327200000,1732334400000,1732341600000,1732348800000,1732356000000,1732363200000,1732370400000,1732377600000,1732384800000], "tickSize": -4, "labelPadding": 12, "labelFlush": false, "labelOverlap": false, "labelAlign": "center", "labelBaseline": "top", "labelLineHeight": 14, "labelExpr": "utchours(datum.value) % 6 == 0 ? [utcFormat(datum.value, '%m/%d'), utcFormat(datum.value, '%H:%M')] : ''"}
        },
        "y": {
          "field": "temp", "type": "quantitative",
          "scale": {"domain": [35, 70], "nice": false, "zero": false},
          "axis": {"orient": "left", "title": "degrees F", "values": [35, 40, 45, 50, 55, 60, 65, 70], "tickSize": -4, "labelPadding": 11, "titlePadding": 12}
        },
        "color": {
          "field": "series", "type": "nominal",
          "scale": {"domain": ["F5122 Analysis", "F5122"], "range": ["#ff0000", "#0080ff"]},
          "legend": {"orient": "none", "legendX": 542, "legendY": 2, "title": null, "symbolType": "M-2,0H2", "symbolSize": 210, "symbolStrokeWidth": 1, "symbolFillColor": "transparent", "labelAlign": "right", "labelOffset": -29, "labelFont": "DejaVu Sans Mono", "labelFontSize": 10, "labelColor": "black", "rowPadding": 0, "padding": 0}
        },
        "detail": {"field": "part", "type": "nominal"}
      }
    },
    {
      "data": {"name": "events"},
      "mark": {"type": "rule", "color": "black", "strokeWidth": 1},
      "encoding": {
        "x": {"field": "time", "type": "temporal", "axis": {"orient": "top", "title": null, "labels": false, "values": [1732147200000,1732154400000,1732161600000,1732168800000,1732176000000,1732183200000,1732190400000,1732197600000,1732204800000,1732212000000,1732219200000,1732226400000,1732233600000,1732240800000,1732248000000,1732255200000,1732262400000,1732269600000,1732276800000,1732284000000,1732291200000,1732298400000,1732305600000,1732312800000,1732320000000,1732327200000,1732334400000,1732341600000,1732348800000,1732356000000,1732363200000,1732370400000,1732377600000,1732384800000], "tickSize": -4}},
        "y": {"datum": 64.85, "type": "quantitative", "axis": {"orient": "right", "title": null, "labels": false, "values": [35, 40, 45, 50, 55, 60, 65, 70], "tickSize": -4}},
        "y2": {"datum": 35}
      }
    },
    {
      "data": {"name": "events"},
      "mark": {"type": "text", "angle": 270, "align": "left", "baseline": "middle", "font": "DejaVu Sans Mono", "fontSize": 10, "color": "black"},
      "encoding": {
        "x": {"field": "time", "type": "temporal", "axis": null},
        "y": {"datum": 65.45, "type": "quantitative", "axis": null},
        "text": {"field": "event"}
      }
    }
  ],
  "resolve": {"axis": {"x": "independent", "y": "independent"}}
}
